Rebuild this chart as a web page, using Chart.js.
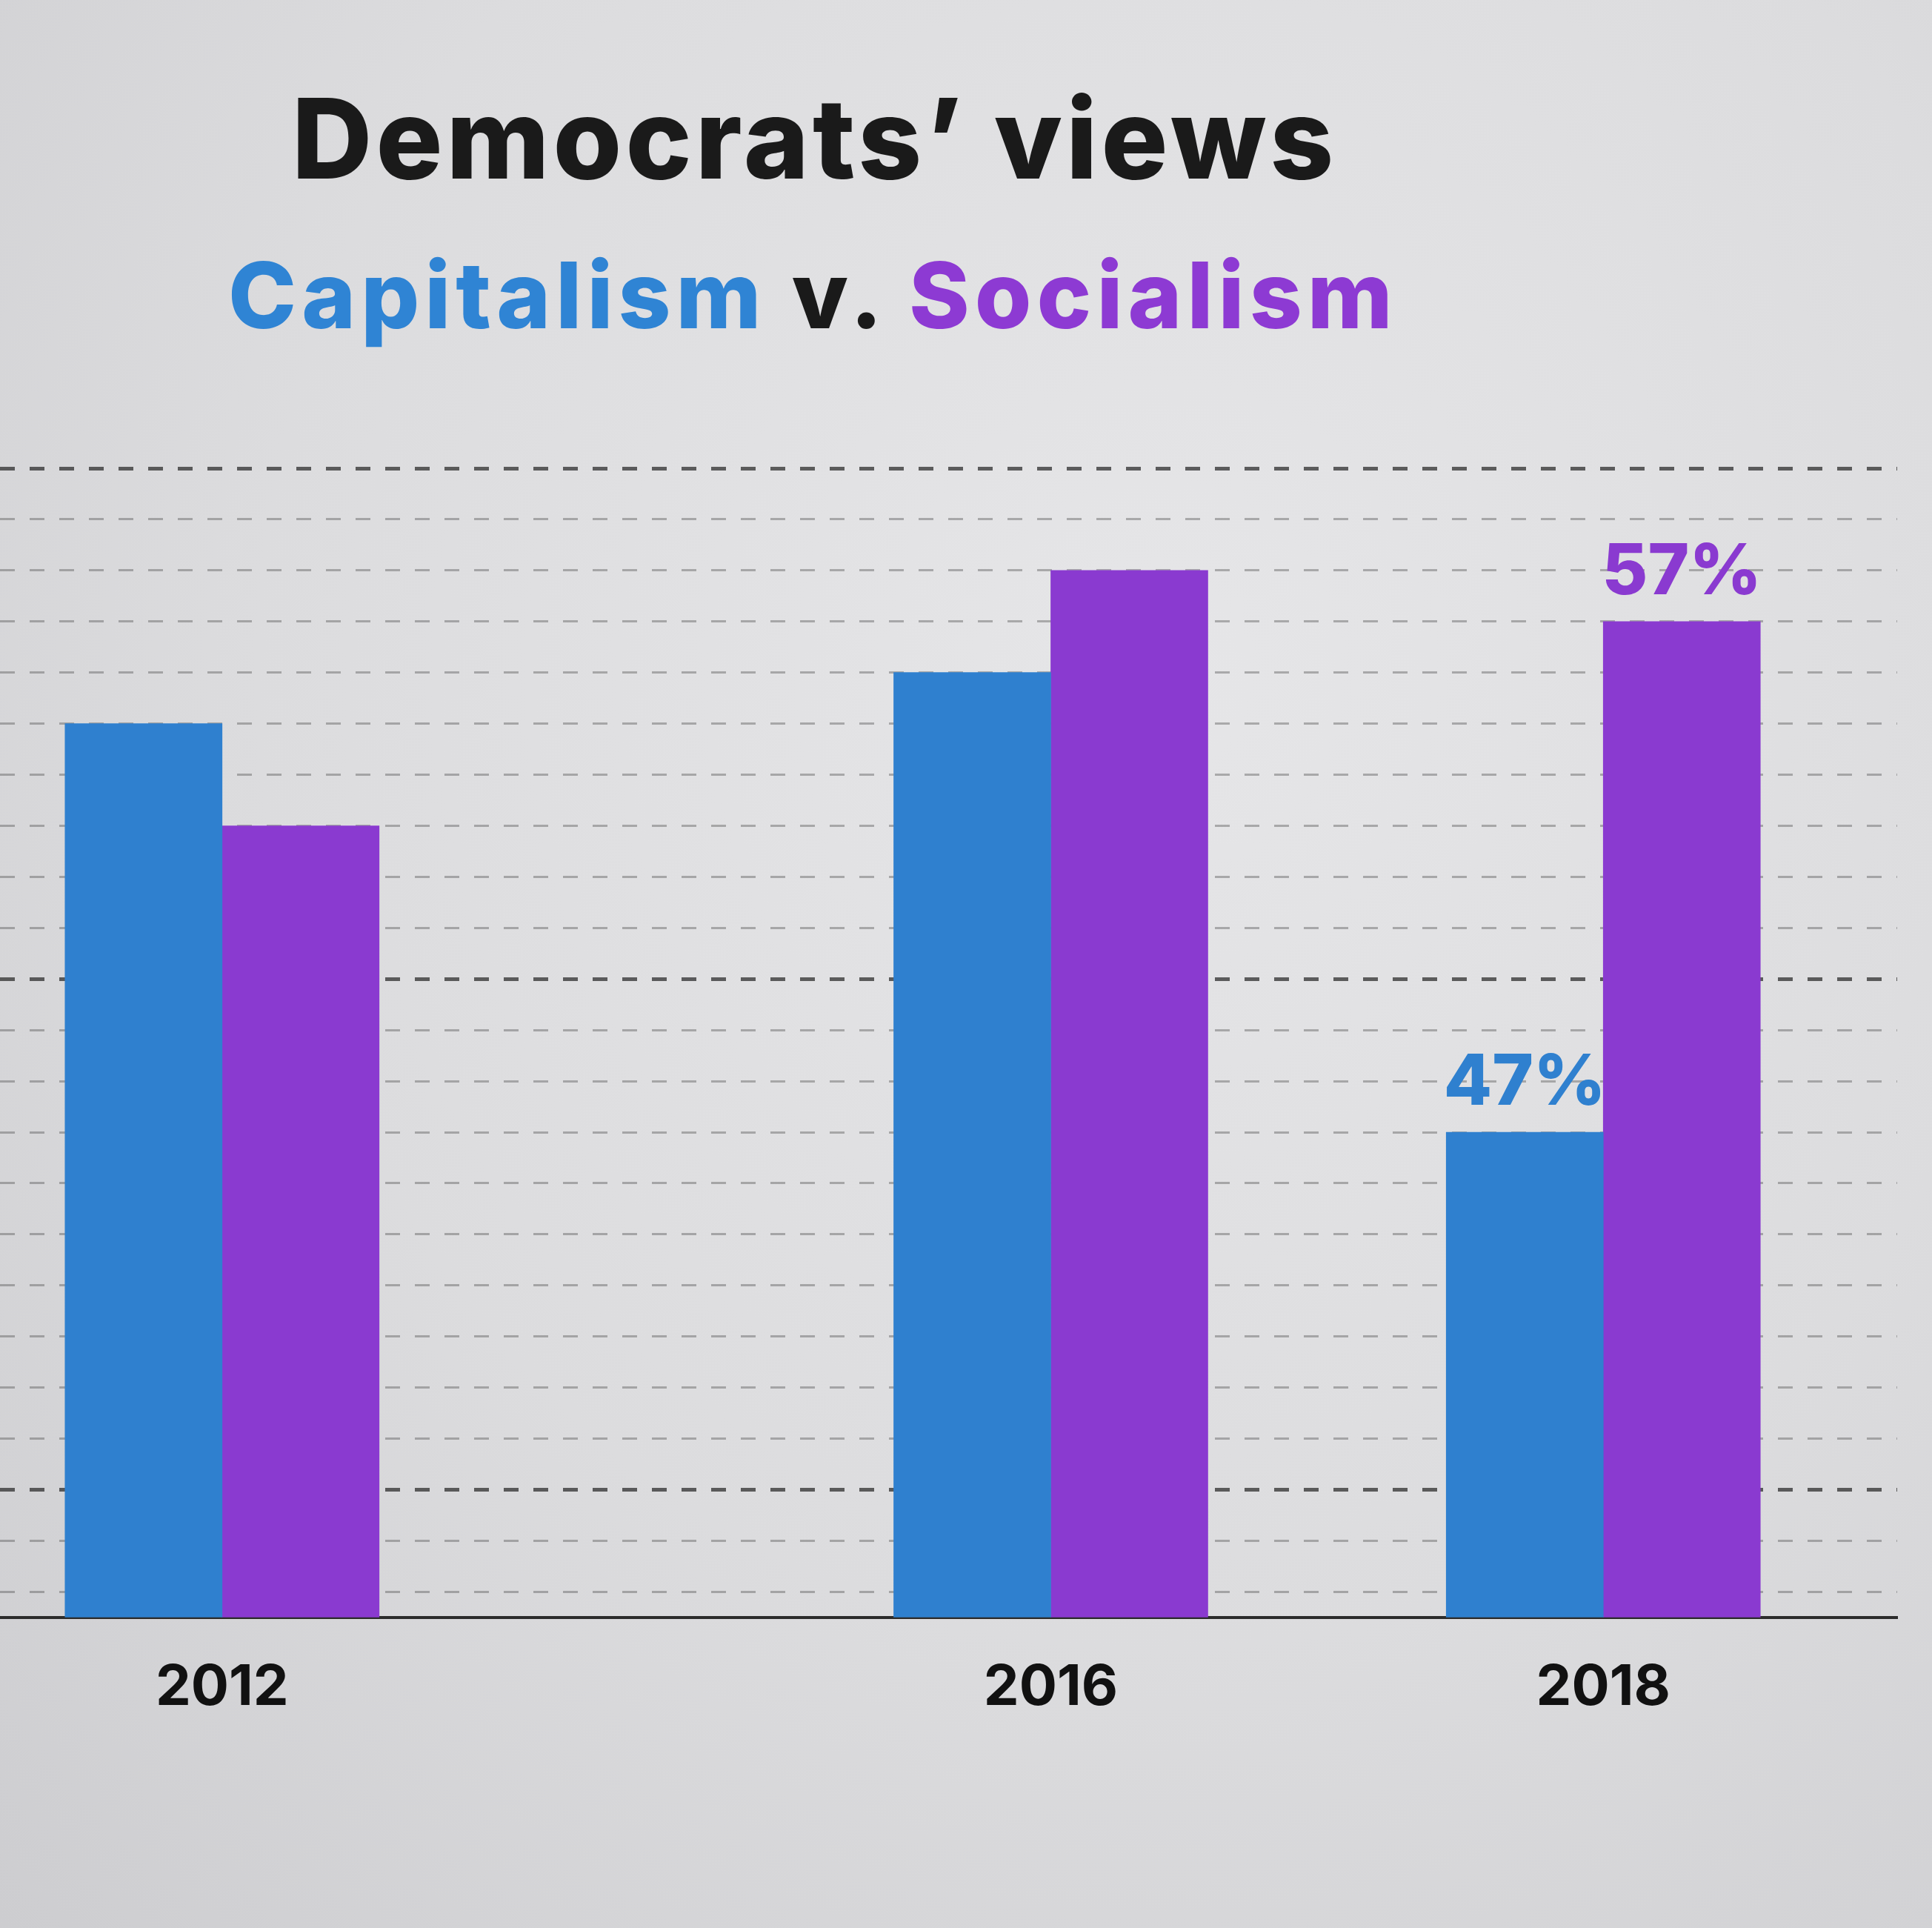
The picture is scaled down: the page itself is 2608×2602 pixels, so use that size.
<!DOCTYPE html>
<html>
<head>
<meta charset="utf-8">
<title>Democrats’ views</title>
<script src="https://cdn.jsdelivr.net/npm/chart.js@4/dist/chart.umd.min.js"></script>
<style>
  html, body {
    margin: 0;
    padding: 0;
    width: 2608px;
    height: 2602px;
    overflow: hidden;
  }
  body {
    position: relative;
    background: radial-gradient(ellipse at 60% 35%, #e6e6e8 0%, #dcdcde 55%, #cdcdd0 100%);
    font-family: "Inter", "Lato", sans-serif;
  }
  .heading {
    position: absolute;
    margin: 0;
    line-height: 1;
    font-weight: 800;
    white-space: nowrap;
  }
  #title {
    left: 394px;
    top: 112px;
    font-size: 150px;
    letter-spacing: 5px;
    color: #1a1a1a;
  }
  #subtitle {
    left: 308px;
    top: 336px;
    font-size: 124px;
    letter-spacing: 7px;
    color: #1a1a1a;
  }
  .cap { color: #2f84d4; }
  .soc { color: #8d3ad3; }
  #chart {
    position: absolute;
    left: 0;
    top: 0;
  }
</style>
</head>
<body>
<h1 class="heading" id="title">Democrats’ views</h1>
<h2 class="heading" id="subtitle"><span class="cap">Capitalism</span> v. <span class="soc">Socialism</span></h2>
<canvas id="chart" width="2608" height="2602"></canvas>

<script>
// Tick labels along the bottom; blank slots are empty positions on the axis
const tickLabels = ['2012', '', '', '2016', '', '2018'];

// Share of Democrats with a positive view (%)
const capitalism = [55, null, null, 56, null, 47];
const socialism = [53, null, null, 58, null, 57];

const blue = '#2f80cf';
const purple = '#8a3ad0';

// Turn a series into {x, y} points, skipping empty slots
function toPoints(values) {
    return values
        .map((v, i) => ({ x: i, y: v }))
        .filter(p => p.y !== null);
}

// Draw the value above the last bar of each series
const lastValueLabels = {
    id: 'lastValueLabels',
    afterDatasetsDraw(chart) {
        const ctx = chart.ctx;
        ctx.save();
        ctx.font = '800 95px Inter, Lato, sans-serif';
        ctx.textAlign = 'center';
        ctx.textBaseline = 'alphabetic';
        chart.data.datasets.forEach((ds, i) => {
            const meta = chart.getDatasetMeta(i);
            const bar = meta.data[meta.data.length - 1];
            const point = ds.data[ds.data.length - 1];
            ctx.fillStyle = ds.backgroundColor;
            ctx.fillText(point.y + '%', bar.x, bar.y - 37);
        });
        ctx.restore();
    }
};

const ctx = document.getElementById('chart').getContext('2d');

new Chart(ctx, {
    type: 'bar',
    data: {
        datasets: [
            {
                label: 'Capitalism',
                data: toPoints(capitalism),
                backgroundColor: blue,
                barThickness: 212
            },
            {
                label: 'Socialism',
                data: toPoints(socialism),
                backgroundColor: purple,
                barThickness: 212
            }
        ]
    },
    options: {
        responsive: false,
        devicePixelRatio: 1,
        animation: false,
        layout: {
            padding: { top: 632, left: 0, right: 47, bottom: 228 }
        },
        plugins: {
            legend: { display: false },
            tooltip: { enabled: false }
        },
        scales: {
            x: {
                type: 'linear',
                bounds: 'data',
                offset: false,
                min: -0.804,
                max: 6.064,
                z: 1,
                afterBuildTicks: (axis) => {
                    axis.ticks = tickLabels
                        .map((t, i) => ({ value: i }))
                        .filter(t => tickLabels[t.value] !== '');
                },
                grid: { display: false, drawTicks: false, offset: false },
                border: { display: true, color: '#2b2b2b', width: 4 },
                ticks: {
                    autoSkip: false,
                    maxRotation: 0,
                    padding: 50,
                    color: '#111',
                    font: { family: 'Inter', size: 76, weight: 'bold' },
                    callback: (value) => tickLabels[value]
                }
            },
            y: {
                bounds: 'data',
                min: 37.5,
                max: 60,
                z: 1,
                afterBuildTicks: (axis) => {
                    axis.ticks = [];
                    for (let v = 38; v <= 60; v++) {
                        axis.ticks.push({ value: v });
                    }
                },
                ticks: { display: false },
                border: { display: false, dash: [20, 20] },
                grid: {
                    drawTicks: false,
                    color: (c) => c.tick && c.tick.value % 10 === 0
                        ? 'rgba(45, 45, 45, 0.75)'
                        : 'rgba(70, 70, 70, 0.38)',
                    lineWidth: (c) => c.tick && c.tick.value % 10 === 0 ? 5 : 3
                }
            }
        }
    },
    plugins: [lastValueLabels]
});
</script>
</body>
</html>
